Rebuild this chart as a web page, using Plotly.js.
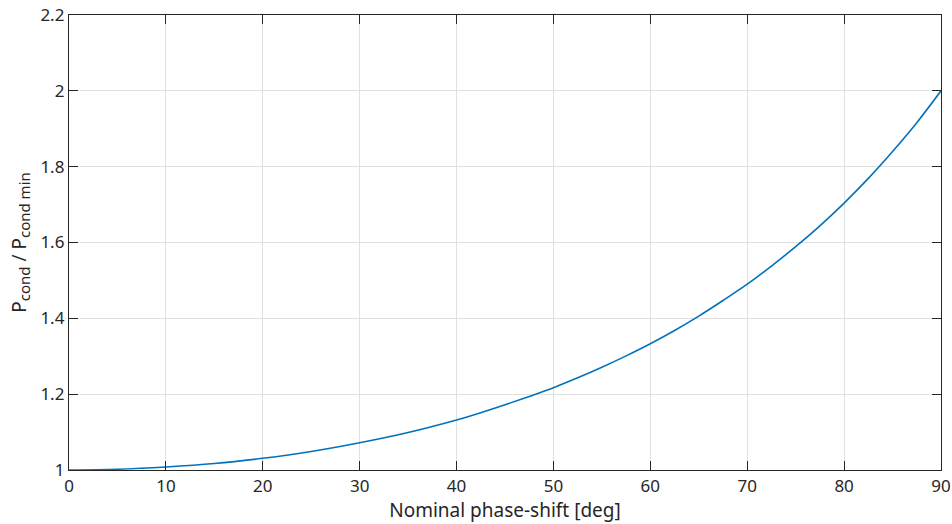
<!DOCTYPE html>
<html>
<head>
<meta charset="utf-8">
<script src="https://cdn.plot.ly/plotly-3.0.1.min.js"></script>
<style>html,body{margin:0;padding:0;background:#fff}#chart{width:952px;height:524px}</style>
</head>
<body>
<div id="chart"></div>
<script>
// Nominal phase-shift [deg]
var phaseDeg = [0, 5, 10, 15, 20, 25, 30, 35, 40, 42.5, 45, 47.5, 50, 52.5, 55, 57.5, 60, 62.5, 65, 67.5, 70, 72.5, 75, 77.5, 80, 82.5, 85, 87.5, 90];
// P_cond / P_cond min
var pRatio = [1.000, 1.002, 1.008, 1.017, 1.031, 1.049, 1.072, 1.099, 1.132, 1.151, 1.172, 1.194, 1.217, 1.243, 1.271, 1.301, 1.333, 1.368, 1.406, 1.447, 1.490, 1.538, 1.589, 1.644, 1.704, 1.769, 1.840, 1.916, 2.000];
var xTicks = [0, 10, 20, 30, 40, 50, 60, 70, 80, 90];
var yTicks = [1, 1.2, 1.4, 1.6, 1.8, 2, 2.2];
var yTickText = ['1', '1.2', '1.4', '1.6', '1.8', '2', '2.2'];

var font = 'Noto Sans, Open Sans, sans-serif';
var axisColor = '#262626';

var trace = {
  x: phaseDeg, y: pRatio, type: 'scatter', mode: 'lines',
  line: {color: '#0072BD', width: 1.6, shape: 'spline', smoothing: 1},
  hoverinfo: 'x+y'
};

var layout = {
  width: 952, height: 524,
  margin: {l: 69, r: 11, t: 15, b: 54},
  paper_bgcolor: '#fff', plot_bgcolor: '#fff',
  showlegend: false,
  font: {family: font, color: axisColor, size: 17},
  xaxis: {
    range: [0, 90], tickvals: xTicks, ticktext: xTicks.map(String),
    ticks: 'inside', ticklen: 9, tickwidth: 1.2, tickcolor: axisColor,
    showline: true, linecolor: axisColor, linewidth: 1.2, mirror: 'ticks',
    showgrid: true, gridcolor: '#e0e0e0', gridwidth: 1, zeroline: false,
    tickfont: {family: font, size: 17, color: axisColor},
    title: {text: 'Nominal phase-shift [deg]', font: {family: font, size: 19, color: axisColor}, standoff: 2}
  },
  yaxis: {
    range: [1, 2.2], tickvals: yTicks, ticktext: yTickText,
    ticks: 'inside', ticklen: 9, tickwidth: 1.2, tickcolor: axisColor,
    showline: true, linecolor: axisColor, linewidth: 1.2, mirror: 'ticks',
    showgrid: true, gridcolor: '#e0e0e0', gridwidth: 1, zeroline: false,
    tickfont: {family: font, size: 17, color: axisColor},
    title: {text: 'P<sub><span style="font-size:15px">cond</span></sub> / P<sub><span style="font-size:15px">cond min</span></sub>', font: {family: font, size: 19, color: axisColor}, standoff: 8}
  }
};

Plotly.newPlot('chart', [trace], layout, {displayModeBar: false, staticPlot: true});
</script>
</body>
</html>
